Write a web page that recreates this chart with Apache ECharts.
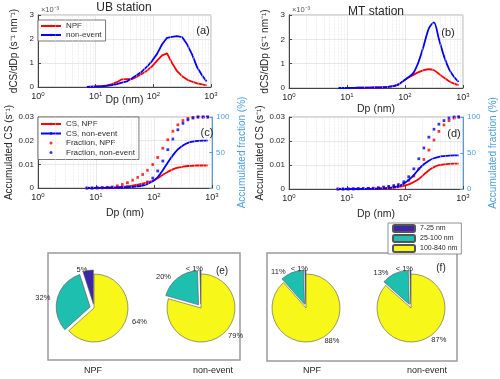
<!DOCTYPE html>
<html>
<head>
<meta charset="utf-8">
<script src="https://cdn.jsdelivr.net/npm/echarts@6/dist/echarts.min.js"></script>
<style>
  html, body { margin: 0; padding: 0; background: #fff; }
  #main { width: 500px; height: 379px; }
</style>
</head>
<body>
<div id="main"></div>
<script>
// particle diameter bins (nm)
var dp = [7, 8.55, 10.45, 12.8, 15.6, 19.1, 23.3, 28.5, 34.8, 42.5, 52, 63.5, 77.6, 94.8, 116, 142, 173, 211, 258, 315, 385, 471, 575, 703, 840];
// minor grid positions on the log axis
var minorGrid = [2, 3, 4, 5, 6, 7, 8, 9, 20, 30, 40, 50, 60, 70, 80, 90, 200, 300, 400, 500, 600, 700, 800, 900];

// (a) UB dCS/dDp  (x1e-3 s-1 nm-1)
var ubNpfDist = [0, 0.01, 0.02, 0.04, 0.07, 0.12, 0.2, 0.32, 0.33, 0.33, 0.43, 0.55, 0.68, 0.86, 1.1, 1.32, 1.4, 1.0, 0.66, 0.45, 0.31, 0.22, 0.15, 0.11, 0.07];
var ubNonDist = [0, 0.01, 0.02, 0.03, 0.05, 0.08, 0.12, 0.18, 0.23, 0.36, 0.5, 0.65, 0.85, 1.08, 1.38, 1.78, 2.05, 2.09, 2.12, 2.08, 1.78, 1.35, 0.82, 0.48, 0.23];
// (b) MT dCS/dDp
var mtNpfDist = [0, 0, 0, 0.005, 0.01, 0.01, 0.015, 0.02, 0.02, 0.03, 0.05, 0.08, 0.15, 0.3, 0.44, 0.55, 0.65, 0.73, 0.77, 0.73, 0.58, 0.42, 0.28, 0.18, 0.12];
var mtNonDist = [0, 0, 0, 0.005, 0.01, 0.01, 0.015, 0.02, 0.02, 0.03, 0.05, 0.08, 0.15, 0.3, 0.45, 0.65, 1.1, 1.75, 2.45, 2.7, 2.0, 1.3, 0.78, 0.45, 0.25];
// (c) UB accumulated CS (s-1) and fraction (%)
var ubNpfCs = [0, 0, 0.00002, 0.00005, 0.0001, 0.00015, 0.0003, 0.0005, 0.0007, 0.001, 0.0014, 0.0018, 0.0024, 0.0031, 0.0041, 0.0056, 0.0068, 0.0079, 0.0086, 0.009, 0.0093, 0.0094, 0.0095, 0.0095, 0.0095];
var ubNonCs = [0, 0, 0.00002, 0.00004, 0.00008, 0.00012, 0.00018, 0.00024, 0.00034, 0.00046, 0.00066, 0.001, 0.0017, 0.0028, 0.0046, 0.0075, 0.0108, 0.0138, 0.0163, 0.018, 0.0191, 0.0196, 0.0199, 0.02, 0.02];
var ubNpfFrac = [0, 0, 0.2, 0.5, 1, 1.5, 3, 5, 7.5, 11, 15, 19, 25, 33, 43, 56, 68, 80, 89, 95, 98, 99.5, 100, 100, 100];
var ubNonFrac = [0, 0, 0.1, 0.2, 0.4, 0.6, 0.9, 1.2, 1.7, 2.3, 3.3, 5, 8.5, 14, 24, 38, 54, 69, 82, 91, 96, 98.5, 100, 100, 100];
// (d) MT accumulated CS and fraction
var mtNpfCs = [0, 0, 0, 0, 0, 0, 0.00005, 0.0001, 0.00015, 0.0002, 0.0003, 0.0005, 0.0008, 0.0013, 0.0019, 0.0029, 0.0042, 0.006, 0.0078, 0.0091, 0.0099, 0.0103, 0.0105, 0.0106, 0.0106];
var mtNonCs = [0, 0, 0, 0, 0, 0, 0.00005, 0.0001, 0.0002, 0.0003, 0.0005, 0.0008, 0.0012, 0.0022, 0.0038, 0.0058, 0.0083, 0.0103, 0.0118, 0.0128, 0.0134, 0.0137, 0.0139, 0.014, 0.014];
var mtNpfFrac = [0, 0, 0, 0.2, 0.4, 0.6, 0.8, 1, 1.5, 2.5, 3.5, 4.5, 5.5, 8, 12, 18, 28, 41, 54, 68, 80, 89, 95, 98.5, 100];
var mtNonFrac = [0, 0, 0, 0.2, 0.4, 0.6, 0.8, 1, 1.5, 2.5, 3.5, 4.5, 6, 10, 17, 28, 42, 57, 72, 83, 90, 95, 98.5, 100, 100];

// (e)/(f) CS contribution by size range (%)
var sizeBins = ['7-25 nm', '25-100 nm', '100-840 nm'];
var ubNpfPie = [5, 32, 64];
var ubNonPie = [0.5, 20, 79];
var mtNpfPie = [0.5, 11, 88];
var mtNonPie = [0.5, 13, 87];

var FONT = 'Liberation Sans, Arial, Helvetica, sans-serif';
var RED = '#ff0000', BLUE = '#0000ff', FRAC = '#4d9de0', AX = '#444', TXT = '#262626';
var PIE_COLORS = ['#3e26a8', '#1fbfb0', '#f7f71a'];

var chart = echarts.init(document.getElementById('main'));

function pairs(ys) {
  return dp.map(function (d, i) { return [d, ys[i]]; });
}

function minorLines() {
  return {
    silent: true, symbol: ['none', 'none'], label: { show: false }, animation: false,
    lineStyle: { color: '#e0e0e0', type: 'dotted', width: 0.7 },
    emphasis: { disabled: true },
    data: minorGrid.map(function (v) { return { xAxis: v }; })
  };
}

function xAx(gi, gap) {
  return {
    type: 'log', logBase: 10, gridIndex: gi, min: 1, max: 1000,
    name: 'Dp (nm)', nameLocation: 'middle', nameGap: gap, nameMoveOverlap: false,
    nameTextStyle: { fontSize: 10.5, color: TXT },
    axisLine: { lineStyle: { color: AX } },
    axisTick: { inside: true, length: 3, lineStyle: { color: AX } },
    axisLabel: {
      margin: 4,
      formatter: function (v) { return '{b|10}{s|' + Math.round(Math.log10(v)) + '}'; },
      rich: { b: { fontSize: 9, color: TXT }, s: { fontSize: 6, color: TXT, padding: [0, 0, 6, 0] } }
    },
    splitLine: { show: true, lineStyle: { color: '#e2e2e2', width: 0.8 } }
  };
}

function yAx(gi, max, interval, name, gap, fmt) {
  return {
    type: 'value', gridIndex: gi, min: 0, max: max, interval: interval,
    name: name, nameLocation: 'middle', nameGap: gap, nameRotate: 90,
    nameTextStyle: { fontSize: 10, color: TXT },
    axisLine: { show: true, lineStyle: { color: AX } },
    axisTick: { show: true, inside: true, length: 3, lineStyle: { color: AX } },
    axisLabel: { fontSize: 8, color: TXT, margin: 4, formatter: fmt },
    splitLine: { show: true, lineStyle: { color: '#e2e2e2', width: 0.8 } }
  };
}

function yFrac(gi) {
  return {
    type: 'value', gridIndex: gi, position: 'right', min: 0, max: 100, interval: 50,
    name: 'Accumulated fraction (%)', nameLocation: 'middle', nameGap: 25, nameRotate: 90,
    nameTextStyle: { fontSize: 10, color: FRAC },
    axisLine: { show: true, lineStyle: { color: FRAC } },
    axisTick: { show: true, inside: true, length: 3, lineStyle: { color: FRAC } },
    axisLabel: { fontSize: 8, color: FRAC, margin: 4 },
    splitLine: { show: false }
  };
}

function line(name, xi, yi, ys, color, smooth, ml) {
  var s = {
    name: name, type: 'line', xAxisIndex: xi, yAxisIndex: yi,
    data: pairs(ys), symbol: 'none', smooth: smooth,
    lineStyle: { color: color, width: 1.8 }, itemStyle: { color: color }
  };
  if (ml) s.markLine = minorLines();
  return s;
}

function dots(name, xi, yi, ys, color) {
  return {
    name: name, type: 'scatter', xAxisIndex: xi, yAxisIndex: yi,
    data: pairs(ys), symbol: 'rect', symbolSize: 2.8,
    itemStyle: { color: color }
  };
}

function pie(vals, cx) {
  var big = vals.indexOf(Math.max.apply(null, vals));
  return {
    type: 'pie', center: [cx, 308], radius: 34, startAngle: 90, clockwise: false,
    selectedMode: 'multiple', selectedOffset: 4, avoidLabelOverlap: false,
    label: {
      position: 'outside', fontSize: 7.5, color: TXT, fontFamily: FONT,
      formatter: function (p) { return p.value < 1 ? '< 1%' : p.value + '%'; }
    },
    labelLine: { show: false, length: 1, length2: 1 },
    // the smallest bin's label sits centred above the pie
    labelLayout: function (p) {
      return p.dataIndex === 0 ? { align: 'center', hideOverlap: false } : { hideOverlap: false };
    },
    itemStyle: { borderColor: '#555', borderWidth: 0.6 },
    emphasis: { disabled: true },
    data: vals.map(function (v, i) {
      return { name: sizeBins[i], value: v, selected: i !== big, itemStyle: { color: PIE_COLORS[i] } };
    })
  };
}

function txt(x, y, t, size, color) {
  return {
    type: 'text', x: x, y: y, z: 20,
    style: { text: t, align: 'center', verticalAlign: 'middle', fontSize: size, fontFamily: FONT, fill: color || TXT }
  };
}

var dcsName = 'dCS/dDp (s⁻¹ nm⁻¹)';
var csName = 'Accumulated CS (s⁻¹)';
var csFmt = function (v) { return v === 0 ? '0' : v.toFixed(2); };

var option = {
  animation: false,
  textStyle: { fontFamily: FONT },
  title: [
    { text: 'UB station', left: 124, top: 2, padding: 0, textAlign: 'center', textStyle: { fontSize: 12, fontWeight: 'normal', color: TXT } },
    { text: 'MT station', left: 376, top: 6, padding: 0, textAlign: 'center', textStyle: { fontSize: 12, fontWeight: 'normal', color: TXT } }
  ],
  grid: [
    { left: 38, top: 15, width: 173, height: 72, show: true, borderColor: '#999', borderWidth: 0.8 },
    { left: 289, top: 15, width: 174, height: 73, show: true, borderColor: '#999', borderWidth: 0.8 },
    { left: 38, top: 117, width: 174, height: 71, show: true, borderColor: '#999', borderWidth: 0.8 },
    { left: 289, top: 117, width: 174, height: 72, show: true, borderColor: '#999', borderWidth: 0.8 }
  ],
  xAxis: [xAx(0, 8), xAx(1, 16), xAx(2, 20), xAx(3, 20)],
  yAxis: [
    yAx(0, 3, 1, dcsName, 19),
    yAx(1, 3, 1, dcsName, 19),
    yAx(2, 0.03, 0.01, csName, 23, csFmt),
    yFrac(2),
    yAx(3, 0.03, 0.01, csName, 23, csFmt),
    yFrac(3)
  ],
  legend: [
    {
      data: ['NPF', 'non-event'], left: 38, top: 20, orient: 'vertical', selectedMode: false,
      itemWidth: 20, itemHeight: 3, itemGap: 1, padding: [2, 4, 2, 2],
      borderColor: '#555', borderWidth: 0.8, backgroundColor: '#fff',
      textStyle: { fontSize: 8, color: TXT }
    },
    {
      data: ['CS, NPF', 'CS, non-event', { name: 'Fraction, NPF', icon: 'circle' }, { name: 'Fraction, non-event', icon: 'circle' }],
      left: 38, top: 117, orient: 'vertical', selectedMode: false,
      itemWidth: 20, itemHeight: 3, itemGap: 1.5, padding: [3, 4, 3, 2],
      borderColor: '#555', borderWidth: 0.8, backgroundColor: '#fff',
      textStyle: { fontSize: 8, color: TXT }
    },
    {
      data: sizeBins, left: 388, top: 223, orient: 'vertical', selectedMode: false,
      itemWidth: 22, itemHeight: 7, itemGap: 1, padding: [1, 4, 1, 4],
      borderColor: '#777', borderWidth: 0.8, backgroundColor: '#fff',
      textStyle: { fontSize: 7, color: TXT }
    }
  ],
  graphic: [
    { type: 'rect', shape: { x: 48, y: 253, width: 192, height: 107 }, style: { fill: 'none', stroke: '#9a9a9a', lineWidth: 1.5 } },
    { type: 'rect', shape: { x: 267, y: 253, width: 190, height: 108 }, style: { fill: 'none', stroke: '#9a9a9a', lineWidth: 1.5 } },
    txt(203, 31, '(a)', 11), txt(448, 33, '(b)', 11),
    txt(207, 133, '(c)', 11), txt(454, 134, '(d)', 11),
    txt(222, 271, '(e)', 10), txt(441, 268, '(f)', 10),
    txt(50, 10, '×10⁻³', 7.5, '#555'), txt(301, 10, '×10⁻³', 7.5, '#555'),
    txt(93, 371, 'NPF', 9), txt(213, 371, 'non-event', 9),
    txt(312, 371, 'NPF', 9), txt(427, 371, 'non-event', 9)
  ],
  series: [
    line('NPF', 0, 0, ubNpfDist, RED, false, true),
    line('non-event', 0, 0, ubNonDist, BLUE, false),
    line('NPF', 1, 1, mtNpfDist, RED, 0.3, true),
    line('non-event', 1, 1, mtNonDist, BLUE, 0.3),
    line('CS, NPF', 2, 2, ubNpfCs, RED, 0.3, true),
    line('CS, non-event', 2, 2, ubNonCs, BLUE, 0.3),
    dots('Fraction, NPF', 2, 3, ubNpfFrac, RED),
    dots('Fraction, non-event', 2, 3, ubNonFrac, BLUE),
    line('CS, NPF', 3, 4, mtNpfCs, RED, 0.3, true),
    line('CS, non-event', 3, 4, mtNonCs, BLUE, 0.3),
    dots('Fraction, NPF', 3, 5, mtNpfFrac, RED),
    dots('Fraction, non-event', 3, 5, mtNonFrac, BLUE),
    pie(ubNpfPie, 94),
    pie(ubNonPie, 201),
    pie(mtNpfPie, 306),
    pie(mtNonPie, 411)
  ]
};

chart.setOption(option);
</script>
</body>
</html>
